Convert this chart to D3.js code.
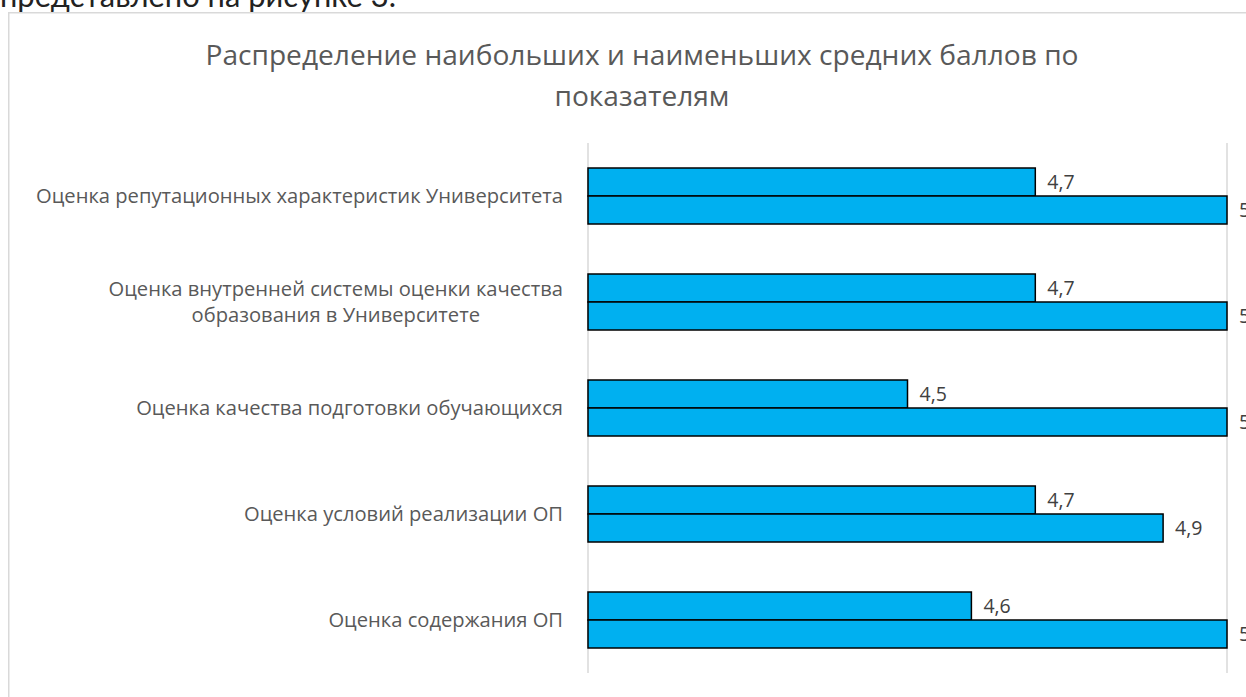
<!DOCTYPE html>
<html>
<head>
<meta charset="utf-8">
<script src="https://cdn.jsdelivr.net/npm/d3@7"></script>
<style>
  html, body { margin: 0; padding: 0; background: #fff; }
  svg { display: block; }
</style>
</head>
<body>
<svg id="chart" width="1246" height="697"></svg>
<script>
// ---- data ----
const categories = [
  ["Оценка репутационных характеристик Университета"],
  ["Оценка внутренней системы оценки качества", "образования в Университете"],
  ["Оценка качества подготовки обучающихся"],
  ["Оценка условий реализации ОП"],
  ["Оценка содержания ОП"]
];
const minScores = [4.7, 4.7, 4.5, 4.7, 4.6];
const maxScores = [5, 5, 5, 4.9, 5];
const axisTicks = [4, 5];
const titleLines = ["Распределение наибольших и наименьших средних баллов по", "показателям"];
const precedingText = "представлено на рисунке 3.";

const svg = d3.select("#chart");
const W = 1246, H = 697;
const FONT = "'Open Sans', 'DejaVu Sans', sans-serif";

// fit helper: set font-size so the text has a target width
function fitText(sel, targetWidth) {
  const node = sel.node();
  const base = parseFloat(sel.attr("font-size"));
  const len = node.getComputedTextLength();
  sel.attr("font-size", (base * targetWidth / len).toFixed(2));
}

// preceding document text (cut off at top)
const pre = svg.append("text")
  .attr("x", 0).attr("y", 7)
  .attr("font-family", "Lato, 'Open Sans', sans-serif")
  .attr("font-size", 22)
  .attr("fill", "#222")
  .text(precedingText);
fitText(pre, 396);

// chart area border
svg.append("rect")
  .attr("x", 8.75).attr("y", 12.75)
  .attr("width", W + 10).attr("height", H + 10)
  .attr("fill", "#fff")
  .attr("stroke", "#d9d9d9").attr("stroke-width", 1.5);

// title
const titleG = svg.append("g").attr("font-family", FONT).attr("fill", "#595959");
const t1 = titleG.append("text").attr("x", 642).attr("y", 65)
  .attr("text-anchor", "middle").attr("font-size", 22).text(titleLines[0]);
fitText(t1, 873);
const titleSize = t1.attr("font-size");
titleG.append("text").attr("x", 642).attr("y", 106)
  .attr("text-anchor", "middle").attr("font-size", titleSize).text(titleLines[1]);

// scales
const x = d3.scaleLinear().domain([4, 5]).range([588, 1227]);
const p = 50 / 106;
const y = d3.scaleBand().domain(d3.range(categories.length))
  .range([143, 673]).paddingInner(p).paddingOuter(p / 2);
const ySub = d3.scaleBand().domain(["min", "max"]).range([0, y.bandwidth()]);

// gridlines
svg.append("g").selectAll("line").data(axisTicks).join("line")
  .attr("x1", d => x(d)).attr("x2", d => x(d))
  .attr("y1", 143).attr("y2", 673)
  .attr("stroke", "#d9d9d9").attr("stroke-width", 1.5);

// bars
const rows = categories.map((c, i) => ({ i, min: minScores[i], max: maxScores[i] }));
const barData = rows.flatMap(r => [
  { i: r.i, key: "min", v: r.min },
  { i: r.i, key: "max", v: r.max }
]);
svg.append("g").selectAll("rect").data(barData).join("rect")
  .attr("x", x(4))
  .attr("y", d => y(d.i) + ySub(d.key))
  .attr("width", d => x(d.v) - x(4))
  .attr("height", ySub.bandwidth())
  .attr("fill", "#00b0f0")
  .attr("stroke", "#000").attr("stroke-width", 1.5);

// value labels
const fmt = v => String(v).replace(".", ",");
svg.append("g").attr("font-family", FONT).attr("font-size", 19.5).attr("fill", "#404040")
  .selectAll("text").data(barData).join("text")
  .attr("x", d => x(d.v) + 12)
  .attr("y", d => y(d.i) + ySub(d.key) + ySub.bandwidth() / 2)
  .attr("dy", "0.35em")
  .text(d => fmt(d.v));

// category labels (multi-line, centred lines, right-aligned block)
const labG = svg.append("g").attr("font-family", FONT).attr("fill", "#595959");
const probe = labG.append("text").attr("font-size", 16).text(categories[0][0]);
fitText(probe, 527);
const labSize = +probe.attr("font-size");
probe.remove();
const lineH = 26;
categories.forEach((lines, i) => {
  const cy = y(i) + y.bandwidth() / 2;
  const texts = lines.map(l => labG.append("text").attr("font-size", labSize).text(l));
  const maxW = d3.max(texts, t => t.node().getComputedTextLength());
  const rightX = 563;
  const cx = rightX - maxW / 2;
  texts.forEach((t, k) => {
    t.attr("x", cx).attr("text-anchor", "middle")
     .attr("y", cy + (k - (lines.length - 1) / 2) * lineH)
     .attr("dy", "0.35em");
  });
});
</script>
</body>
</html>
